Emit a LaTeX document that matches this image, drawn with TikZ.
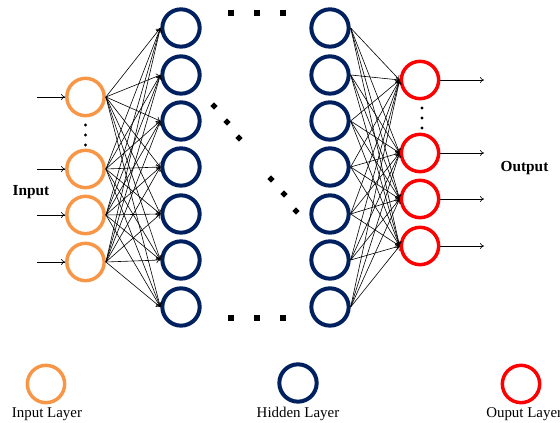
\documentclass[tikz,border=0pt]{standalone}
\usepackage{fontspec}
\setmainfont{Liberation Serif}
\usetikzlibrary{positioning,arrows.meta}
\definecolor{inorange}{RGB}{247,150,70}
\definecolor{hidblue}{RGB}{0,32,96}
\definecolor{outred}{RGB}{255,0,0}
\tikzset{
  neuron/.style={circle, draw, line width=2.6pt, minimum size=28pt, inner sep=0pt},
  hidneuron/.style={neuron, draw=hidblue, line width=3pt},
  conn/.style={-{To[length=3pt,width=4.5pt]}, line width=0.45pt},
  sqdot/.style={fill=black},
}

\begin{document}
\begin{tikzpicture}[x=0.75pt, y=-0.75pt, font=\fontsize{11.2}{13}\selectfont]
			\useasboundingbox (0,0) rectangle (560,423);
			% input layer
			\foreach \n/\y in {1/97, 2/169, 3/215, 4/262} {
				\node[neuron, draw=inorange] (i\n) at (85.5,\y) {};
				\coordinate (s\n) at (37,\y);
				\draw[conn] (s\n) -- (i\n);
			}
			% hidden layers
			\foreach \n/\y in {1/28, 2/75, 3/121, 4/167, 5/214, 6/260, 7/307} {
				\node[hidneuron] (h\n) at (181,\y) {};
				\node[hidneuron] (g\n) at (330,\y) {};
			}
			% output layer
			\foreach \n/\y in {1/80, 2/153, 3/199, 4/246} {
				\node[neuron, draw=outred] (o\n) at (420,\y) {};
				\coordinate (e\n) at (484,\y);
				\draw[conn] (o\n) -- (e\n);
			}
			% weights
			\foreach \a in {1,...,4}
				\foreach \b in {1,...,7} {
					\draw[conn] (i\a.east) -- (h\b.west);
					\draw[conn] (g\b.east) -- (o\a.west);
				}
			% dots
			\foreach \x in {231,257,283} {
				\fill[sqdot] (\x,13) ++(-3.2,-3.2) rectangle ++(6.4,6.4);
				\fill[sqdot] (\x,318) ++(-3.2,-3.2) rectangle ++(6.4,6.4);
			}
			\foreach \x/\y in {214/106, 227/122, 239/138, 271/179, 284/194, 296/211}
				\fill (\x,\y) +(0,-3.6) -- +(3.6,0) -- +(0,3.6) -- +(-3.6,0) -- cycle;
			\foreach \y in {125,135,145} \fill (85.5,\y) circle (1.7);
			\foreach \y in {108,118,128} \fill (422,\y) circle (1.7);
			% labels
			\node[font=\fontsize{11.5}{13}\selectfont\bfseries] (inp) at (31,192) {Input};
			\node[font=\fontsize{11.5}{13}\selectfont\bfseries] (outp) at (524.5,168) {Output};
			% legend
			\node[neuron, draw=inorange] (li) at (46,384) {};
			\node[hidneuron] (lh) at (298,383) {};
			\node[neuron, draw=outred] (lo) at (521,384) {};
			\node (ti) at (47,414) {Input Layer};
			\node (th) at (298,414) {Hidden Layer};
			\node[anchor=west, inner sep=0pt] (to) at (486,414) {Ouput Layer};
		\end{tikzpicture}
\end{document}
